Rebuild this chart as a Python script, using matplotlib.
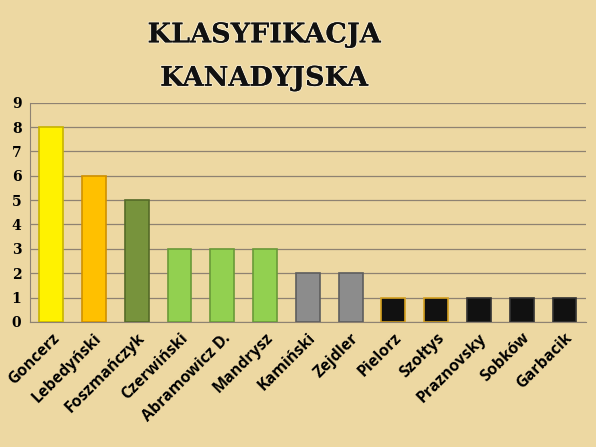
import matplotlib
matplotlib.use("Agg")
import matplotlib.pyplot as plt
import matplotlib.patheffects as pe
import numpy as np

names = ["Goncerz", "Lebedyński", "Foszmańczyk", "Czerwiński", "Abramowicz D.",
         "Mandrysz", "Kamiński", "Zejdler", "Pielorz", "Szołtys", "Praznovsky",
         "Sobków", "Garbacik"]
points = [8, 6, 5, 3, 3, 3, 2, 2, 1, 1, 1, 1, 1]
colors = ["#FFF200", "#FFC000", "#77933C", "#92D050", "#92D050", "#92D050",
          "#8C8C8C", "#8C8C8C", "#111111", "#111111", "#111111", "#111111", "#111111"]
edges = ["#C8B400", "#D09000", "#556B28", "#6A9A38", "#6A9A38", "#6A9A38",
         "#5E5E5E", "#5E5E5E", "#D4A020", "#D4A020", "#333333", "#333333", "#333333"]

bg = "#EDD8A2"
fig = plt.figure(figsize=(5.96, 4.47), dpi=100, facecolor=bg)
ax = fig.add_axes([0.050, 0.280, 0.933, 0.490])
ax.set_facecolor(bg)

x = np.arange(len(names))
ax.bar(x, points, width=0.56, color=colors, edgecolor=edges, linewidth=1.2, zorder=3)

ax.set_ylim(0, 9)
ax.set_xlim(-0.5, len(names) - 0.5)
ax.set_yticks(range(0, 10))
ax.yaxis.grid(True, color="#8E8272", linewidth=0.9, zorder=0)
for s in ["top", "right"]:
    ax.spines[s].set_visible(False)
ax.spines["left"].set_color("#8E8272")
ax.spines["bottom"].set_color("#8E8272")
ax.tick_params(length=0, pad=6)
for lbl in ax.get_yticklabels():
    lbl.set_fontfamily("DejaVu Serif")
    lbl.set_fontweight("bold")
    lbl.set_fontsize(10)

ax.set_xticks(x)
ax.set_xticklabels(names, rotation=45, ha="right", rotation_mode="anchor",
                   fontfamily="Open Sans", fontweight="bold", fontsize=11.5)

shadow = [pe.SimpleLineShadow(offset=(1.5, -1.5), shadow_color="#555555", alpha=0.6),
          pe.withStroke(linewidth=1.5, foreground="#F5EBD0"), pe.Normal()]
fig.text(0.443, 0.922, "KLASYFIKACJA", ha="center", va="center",
         fontfamily="DejaVu Serif", fontweight="bold", fontsize=19.5, color="#111111",
         path_effects=shadow)
fig.text(0.443, 0.825, "KANADYJSKA", ha="center", va="center",
         fontfamily="DejaVu Serif", fontweight="bold", fontsize=19.5, color="#111111",
         path_effects=shadow)

plt.savefig("out.png", dpi=100, facecolor=bg)
